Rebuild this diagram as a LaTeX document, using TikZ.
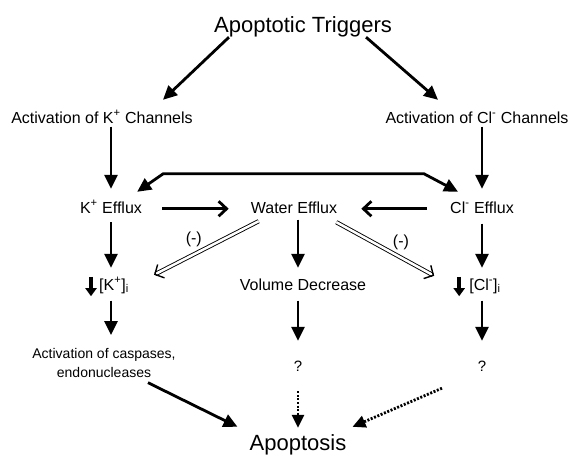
\documentclass[tikz,border=0pt]{standalone}
\usepackage{fontspec}
\setmainfont{Liberation Sans}
\usetikzlibrary{arrows.meta, positioning}

\begin{document}
\begin{tikzpicture}[
    x=1pt, y=-1pt, % pixel grid of the figure
    every node/.style={inner sep=0pt, align=center},
    lbl/.style={font=\fontsize{16}{19}\selectfont, text height=12pt, text depth=3.5pt},
    big/.style={font=\fontsize{22}{26}\selectfont, text height=16pt, text depth=5pt},
    small/.style={font=\fontsize{15}{19}\selectfont, text height=11pt, text depth=0pt},
    arr/.style={line width=2.8pt, -{Triangle[length=14pt,width=13pt]}},
    barb/.style={line width=2.8pt, -{Straight Barb[length=8pt,width=15pt]}},
    dbl/.style={double, double distance=2.5pt, line width=0.9pt, -{Straight Barb[length=7pt,width=15pt,line width=1.4pt]}},
    dots/.style={line width=2.8pt, dash pattern=on 2pt off 1.6pt, -{Triangle[length=13pt,width=12pt]}},
    fat/.style={line width=4.5pt, -{Triangle[length=8pt,width=11pt]}}
]
\useasboundingbox (0,0) rectangle (571,456);

\node [big, anchor=base] (trig) at (303,32) {Apoptotic Triggers};
\node [lbl, anchor=base] (kchan) at (102,123) {Activation of K\textsuperscript{+} Channels};
\node [lbl, anchor=base] (clchan) at (477,123) {Activation of Cl\textsuperscript{-} Channels};
\node [lbl, anchor=base] (keff) at (111,213) {K\textsuperscript{+} Efflux};
\node [lbl, anchor=base] (water) at (294,213) {Water Efflux};
\node [lbl, anchor=base] (cleff) at (482,213) {Cl\textsuperscript{-} Efflux};
\node [lbl, anchor=base] (kconc) at (114,290) {[K\textsuperscript{+}]\textsubscript{i}};
\node [lbl, anchor=base] (vol) at (303,290) {Volume Decrease};
\node [lbl, anchor=base] (clconc) at (485,290) {[Cl\textsuperscript{-}]\textsubscript{i}};
\node [font=\fontsize{14}{19}\selectfont, anchor=north] (casp) at (104,348) {Activation of caspases,\\ endonucleases};
\node [small, anchor=base] (q1) at (298,371) {?};
\node [small, anchor=base] (q2) at (482,371) {?};
\node [big, anchor=base] (apop) at (298,450) {Apoptosis};

\draw [arr] ([xshift=15pt]trig.south west) -- ([xshift=61pt,yshift=11pt]kchan.north);
\draw [arr] ([xshift=-26pt]trig.south east) -- ([xshift=-39pt,yshift=11pt]clchan.north);
\draw [arr] (keff.north |- kchan.south) -- ([yshift=12pt]keff.north);
\draw [arr] (cleff.north |- clchan.south) -- ([yshift=12pt]cleff.north);
\draw [line width=2.8pt, {Triangle[length=14pt,width=13pt]}-{Triangle[length=14pt,width=13pt]}]
    ([xshift=-5pt,yshift=9pt]keff.north east) -- ++(26,-18)
    -- ([xshift=-26pt,yshift=27pt]cleff.north west) -- ([xshift=8pt,yshift=9pt]cleff.north west);

\draw [barb] ([xshift=20pt]keff.east) -- ([xshift=-22pt]water.west);
\draw [barb] ([xshift=-23pt]cleff.west) -- ([xshift=24pt]water.east);

\draw [dbl] ([xshift=8pt,yshift=-4.5pt]water.south west) -- ([xshift=25pt,yshift=3pt]kconc.north east)
    node [lbl, pos=0.62, above=7pt] {(-)};
\draw [dbl] ([xshift=-1pt,yshift=-5.5pt]water.south east) -- ([xshift=-35pt,yshift=2pt]clconc.north west)
    node [lbl, pos=0.66, above=7pt] {(-)};

\draw [arr] ([yshift=-3pt]water.south -| q1.north) -- ([yshift=10pt]vol.north -| q1.north);
\draw [arr] ([yshift=-5.5pt]keff.south) -- ([yshift=10pt]kconc.north -| keff.south);
\draw [arr] ([yshift=-7pt]cleff.south) -- ([yshift=10pt]clconc.north -| cleff.south);

\draw [fat] ([xshift=-8pt,yshift=1pt]kconc.north west) -- ([xshift=-8pt,yshift=-2.5pt]kconc.south west);
\draw [fat] ([xshift=-10pt,yshift=1pt]clconc.north west) -- ([xshift=-10pt,yshift=-2.5pt]clconc.south west);

\draw [arr] ([yshift=-7pt]kconc.south -| keff.south) -- ([yshift=13pt]casp.north -| keff.south);
\draw [arr] ([yshift=-7pt]vol.south -| q1.north) -- ([yshift=19pt]q1.north);
\draw [arr] ([yshift=-7pt]clconc.south -| q2.north) -- ([yshift=19pt]q2.north);

\draw [arr] ([xshift=44pt,yshift=-5pt]casp.south) -- ([xshift=-12pt,yshift=7pt]apop.north west);
\draw [dots] ([yshift=-20pt]q1.south) -- ([yshift=6pt]apop.north);
\draw [dots] ([xshift=-40pt,yshift=-17pt]q2.south) -- ([xshift=6pt,yshift=7pt]apop.north east);
\end{tikzpicture}
\end{document}
